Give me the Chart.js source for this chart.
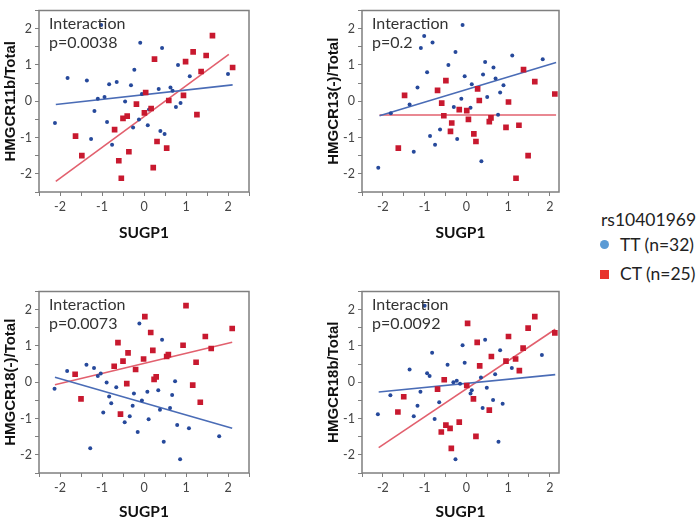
<!DOCTYPE html>
<html>
<head>
<meta charset="utf-8">
<script src="https://cdn.jsdelivr.net/npm/chart.js@4.4.0/dist/chart.umd.min.js"></script>
<style>
body { margin: 0; background: #fff; }
#wrap { position: relative; width: 700px; height: 519px; overflow: hidden; font-family: Lato, sans-serif; }
#wrap canvas { position: absolute; }
.lg { position: absolute; color: #222; font-size: 17.5px; line-height: 21px; white-space: nowrap; }
.mk { position: absolute; width: 9px; height: 9px; }
</style>
</head>
<body>
<div id="wrap">
  <canvas id="c1" width="254" height="250" style="left:0;top:0"></canvas>
  <canvas id="c2" width="241" height="250" style="left:323px;top:0"></canvas>
  <canvas id="c3" width="254" height="240" style="left:0;top:281px"></canvas>
  <canvas id="c4" width="241" height="240" style="left:323px;top:281px"></canvas>

  <div class="lg" style="left:601px;top:209px">rs10401969</div>
  <div class="mk" style="left:600px;top:240px;border-radius:50%;background:#5b9bd5"></div>
  <div class="lg" style="left:620px;top:234px">TT (n=32)</div>
  <div class="mk" style="left:600px;top:270px;background:#e8322b"></div>
  <div class="lg" style="left:620px;top:263px">CT (n=25)</div>
</div>
<script>
// SUGP1 (x) vs. target (y), TT = blue dots, CT = red squares
const tt1 = [[-2.12,-0.60],[-1.82,0.64],[-1.36,0.57],[-1.26,-1.04],[-1.18,-0.27],[-1.10,0.07],[-1.02,2.10],[-0.94,0.12],[-0.88,-0.57],[-0.83,0.47],[-0.76,-1.20],[-0.65,0.53],[-0.45,-0.01],[-0.31,0.44],[-0.26,-0.72],[-0.23,0.87],[-0.12,-0.50],[-0.09,1.61],[-0.05,0.20],[0.09,-0.66],[0.12,-0.23],[0.35,0.34],[0.39,-0.82],[0.43,1.47],[0.49,-0.90],[0.63,0.38],[0.68,0.29],[0.76,-0.16],[0.81,1.00],[0.87,-0.05],[1.09,0.69],[2.00,0.75]];
const ct1 = [[-1.63,-0.96],[-1.48,-1.50],[-0.70,-0.78],[-0.60,-1.64],[-0.54,-2.12],[-0.50,-0.47],[-0.40,-0.41],[-0.36,-1.39],[-0.18,-0.08],[0.01,-0.32],[0.04,0.24],[0.17,-0.20],[0.22,-1.83],[0.25,1.16],[0.31,-1.11],[0.54,-1.29],[0.59,0.02],[0.94,0.16],[0.99,1.09],[1.17,1.36],[1.26,-0.37],[1.36,0.82],[1.48,1.26],[1.63,1.81],[2.11,0.93]];
const ttFit1 = [[-2.10,-0.09],[2.11,0.45]];
const ctFit1 = [[-2.10,-2.21],[2.02,1.29]];

const tt2 = [[-2.11,-1.83],[-1.81,-0.33],[-1.36,-0.09],[-1.26,-1.39],[-1.17,0.38],[-1.09,1.47],[-1.01,1.80],[-0.94,0.80],[-0.87,-0.96],[-0.81,1.62],[-0.75,-1.20],[-0.63,-0.78],[-0.43,1.00],[-0.30,-0.16],[-0.26,1.36],[-0.22,-1.04],[-0.12,0.07],[-0.09,2.10],[-0.04,0.69],[0.10,-0.18],[0.13,0.47],[0.36,-1.65],[0.40,0.74],[0.45,1.08],[0.50,0.12],[0.65,0.93],[0.70,0.63],[0.76,-0.37],[0.81,0.24],[0.89,0.44],[1.10,1.26],[1.83,1.16]];
const ct2 = [[-1.63,-1.29],[-1.48,0.16],[-0.69,0.30],[-0.59,-0.05],[-0.54,-0.40],[-0.49,0.57],[-0.38,-0.83],[-0.35,-0.60],[-0.17,-0.23],[0.01,-0.26],[0.05,-0.50],[0.18,-0.90],[0.23,-1.11],[0.27,0.34],[0.31,0.02],[0.55,-0.56],[0.59,-0.46],[0.95,-0.72],[1.01,-0.02],[1.19,-2.12],[1.26,-0.66],[1.37,0.87],[1.48,-1.50],[1.64,0.54],[2.12,0.20]];
const ttFit2 = [[-2.08,-0.40],[2.15,1.07]];
const ctFit2 = [[-2.08,-0.38],[2.15,-0.38]];

const tt3 = [[-2.13,-0.18],[-1.83,0.31],[-1.37,0.48],[-1.28,-1.82],[-1.19,0.39],[-1.10,0.17],[-1.03,0.24],[-0.97,-0.83],[-0.89,-0.01],[-0.83,-0.39],[-0.78,-0.58],[-0.66,-0.14],[-0.46,-1.10],[-0.34,-0.94],[-0.27,-0.65],[-0.24,-0.31],[-0.15,-1.37],[-0.11,1.62],[-0.05,-0.50],[0.08,-0.26],[0.11,-1.02],[0.34,-0.22],[0.38,-0.76],[0.43,1.17],[0.47,-1.64],[0.62,-0.71],[0.67,-0.35],[0.74,0.03],[0.79,-1.18],[0.86,-2.12],[1.07,-1.27],[1.79,-1.49]];
const ct3 = [[-1.64,0.22],[-1.50,-0.46],[-0.71,0.44],[-0.62,1.09],[-0.56,-0.88],[-0.50,0.58],[-0.41,-0.04],[-0.38,0.81],[-0.20,0.35],[-0.01,0.64],[0.02,1.81],[0.16,1.37],[0.21,0.88],[0.24,0.08],[0.29,0.15],[0.54,0.71],[0.58,0.76],[0.93,1.02],[1.00,2.11],[1.16,-0.08],[1.24,0.55],[1.34,-0.55],[1.46,1.26],[1.60,0.93],[2.10,1.48]];
const ttFit3 = [[-2.12,0.14],[2.10,-1.27]];
const ctFit3 = [[-2.12,-0.07],[2.10,1.10]];

const tt4 = [[-2.12,-0.88],[-1.82,-0.36],[-1.36,0.35],[-1.26,-0.94],[-1.17,-0.65],[-1.10,-0.26],[-1.00,2.11],[-0.94,0.25],[-0.88,0.17],[-0.82,0.81],[-0.76,-1.01],[-0.65,-0.55],[-0.45,0.48],[-0.31,0.00],[-0.26,-2.12],[-0.23,0.04],[-0.15,-0.04],[-0.09,1.02],[-0.04,0.54],[0.10,-0.31],[0.13,-0.22],[0.35,0.13],[0.39,-0.71],[0.45,1.17],[0.49,-0.15],[0.64,-0.49],[0.69,0.22],[0.77,-1.64],[0.81,0.88],[0.87,-0.59],[1.09,0.39],[1.81,0.75]];
const ct4 = [[-1.64,-0.82],[-1.50,-0.40],[-0.69,-0.19],[-0.60,-1.37],[-0.53,0.07],[-0.49,-1.18],[-0.39,-1.27],[-0.36,-1.82],[-0.17,-1.10],[0.01,-0.09],[0.03,1.62],[0.17,-0.46],[0.23,-1.49],[0.26,1.10],[0.32,0.45],[0.55,-0.77],[0.60,0.71],[0.95,0.58],[1.01,1.26],[1.18,0.64],[1.27,0.32],[1.36,0.94],[1.48,1.49],[1.64,1.81],[2.12,1.36]];
const ttFit4 = [[-2.10,-0.27],[2.13,0.21]];
const ctFit4 = [[-2.10,-1.80],[2.13,1.46]];

const yTitles = ['HMGCR11b/Total', 'HMGCR13(-)/Total', 'HMGCR18(-)/Total', 'HMGCR18b/Total'];
const pValues = ['p=0.0038', 'p=0.2', 'p=0.0073', 'p=0.0092'];
const xTitle = 'SUGP1';

const pts = arr => arr.map(d => ({x: d[0], y: d[1]}));

// gray box round the plot area + the "Interaction" note
const frameNote = {
    id: 'frameNote',
    afterDraw(chart, args, opts) {
        const {ctx, chartArea: a} = chart;
        ctx.save();
        ctx.strokeStyle = '#7f7f7f';
        ctx.lineWidth = 1.5;
        ctx.strokeRect(a.left, a.top, a.right - a.left, a.bottom - a.top);
        ctx.fillStyle = '#333';
        ctx.font = '16px Lato';
        ctx.fillText('Interaction', a.left + 10, a.top + 18);
        ctx.fillText(opts.p, a.left + 10, a.top + 37.5);
        ctx.restore();
    }
};

const tickFont = {family: 'Lato', size: 12.5};
const tickLabel = v => Number.isInteger(v) ? String(v) : '';

function makeChart(id, yTitle, p, tt, ct, ttFit, ctFit, xMax, pad, xH) {
    return new Chart(document.getElementById(id), {
        type: 'scatter',
        data: {
            datasets: [
                {data: pts(ct), pointStyle: 'rect', pointRadius: 4, backgroundColor: '#c8192f', borderWidth: 0},
                {data: pts(tt), pointStyle: 'circle', pointRadius: 2, backgroundColor: '#26499b', borderWidth: 0},
                {data: pts(ttFit), showLine: true, pointRadius: 0, borderColor: '#4a6cb6', borderWidth: 1.6},
                {data: pts(ctFit), showLine: true, pointRadius: 0, borderColor: '#e2606e', borderWidth: 1.6}
            ]
        },
        options: {
            responsive: false,
            animation: false,
            layout: {padding: pad},
            plugins: {legend: {display: false}, tooltip: {enabled: false}, frameNote: {p: p}},
            scales: {
                x: {
                    type: 'linear', min: -2.5, max: xMax,
                    afterFit(s) { s.height = xH; },
                    border: {display: false},
                    grid: {drawOnChartArea: false, tickLength: 4, color: '#7f7f7f'},
                    ticks: {stepSize: 0.5, includeBounds: false, autoSkip: false, maxRotation: 0, padding: 3,
                            color: '#444', font: tickFont, callback: tickLabel},
                    title: {display: true, text: xTitle, color: '#111', padding: 0,
                            font: {family: 'Lato', size: 15.5, weight: 'bold'}}
                },
                y: {
                    type: 'linear', min: -2.5, max: 2.5,
                    afterFit(s) { s.width = 39; },
                    border: {display: false},
                    grid: {drawOnChartArea: false, tickLength: 4, color: '#7f7f7f'},
                    ticks: {stepSize: 0.5, autoSkip: false, padding: 3, color: '#444', font: tickFont, callback: tickLabel},
                    title: {display: true, text: yTitle, color: '#111', padding: {top: 2, bottom: 0},
                            font: {family: 'Liberation Sans', size: 15, weight: 'bold'}}
                }
            }
        },
        plugins: [frameNote]
    });
}

const topPad = {left: 0, top: 4, right: 5, bottom: 8};
const botPad = {left: 0, top: 4, right: 5, bottom: 0};

makeChart('c1', yTitles[0], pValues[0], tt1, ct1, ttFit1, ctFit1, 2.5, topPad, 50);
makeChart('c2', yTitles[1], pValues[1], tt2, ct2, ttFit2, ctFit2, 2.22, topPad, 50);
makeChart('c3', yTitles[2], pValues[2], tt3, ct3, ttFit3, ctFit3, 2.5, botPad, 48);
makeChart('c4', yTitles[3], pValues[3], tt4, ct4, ttFit4, ctFit4, 2.22, botPad, 48);
</script>
</body>
</html>
